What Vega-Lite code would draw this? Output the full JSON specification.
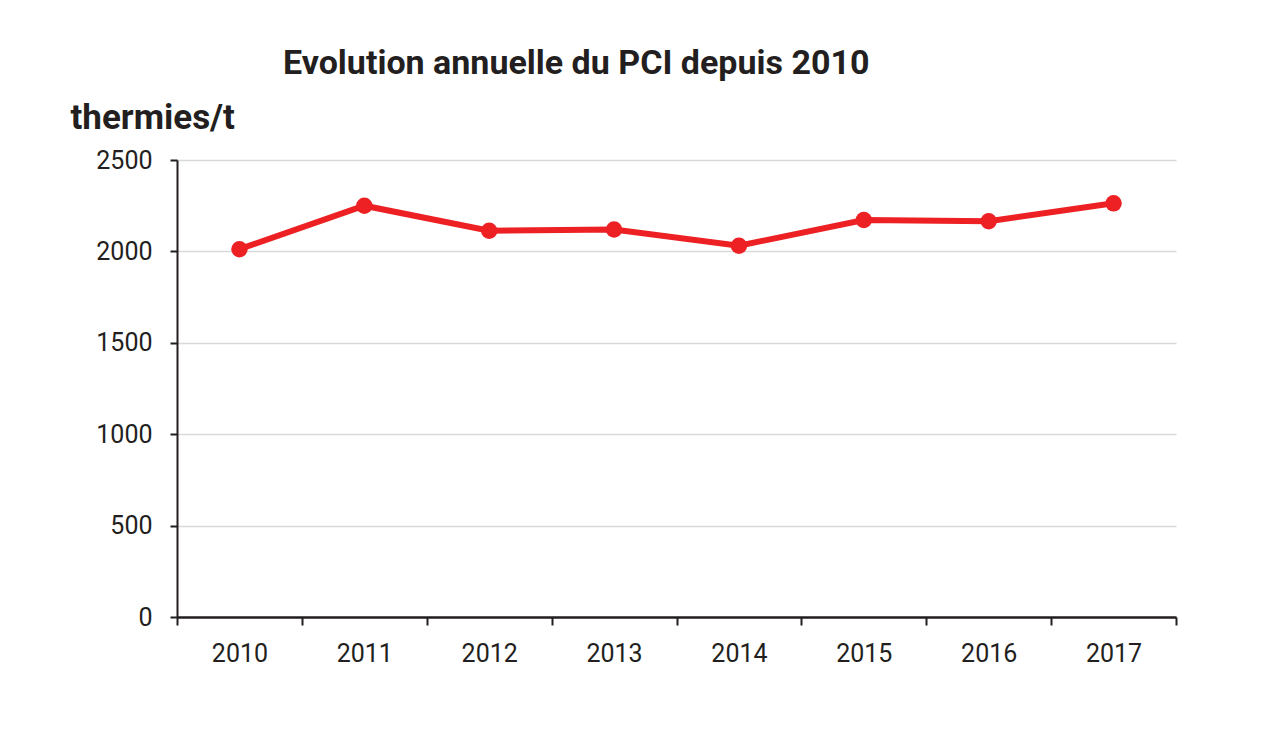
{
  "$schema": "https://vega.github.io/schema/vega-lite/v6.json",
  "autosize": {"type": "none"},
  "width": 999,
  "height": 457,
  "padding": {"left": 177, "top": 160, "right": 89, "bottom": 112},
  "background": "white",
  "title": {
    "text": "Evolution annuelle du PCI depuis 2010",
    "anchor": "start",
    "frame": "group",
    "dx": 106,
    "offset": 19,
    "font": "Roboto",
    "fontSize": 34,
    "fontWeight": "bold",
    "color": "#231f20"
  },
  "config": {
    "view": {"stroke": null},
    "font": "Roboto"
  },
  "data": {
    "values": [
      {"year": "2010", "pci": 2012},
      {"year": "2011", "pci": 2250},
      {"year": "2012", "pci": 2113},
      {"year": "2013", "pci": 2120},
      {"year": "2014", "pci": 2031},
      {"year": "2015", "pci": 2172},
      {"year": "2016", "pci": 2165},
      {"year": "2017", "pci": 2263}
    ]
  },
  "encoding": {
    "x": {
      "field": "year",
      "type": "ordinal",
      "scale": {"type": "band", "paddingInner": 0, "paddingOuter": 0},
      "axis": {
        "title": null,
        "labelAngle": 0,
        "labelFont": "Roboto",
        "labelFontSize": 25,
        "labelColor": "#231f20",
        "labelPadding": 16,
        "tickBand": "extent",
        "tickSize": 8,
        "tickWidth": 2,
        "tickColor": "#231f20",
        "domainColor": "#231f20",
        "domainWidth": 2.5,
        "grid": false
      }
    },
    "y": {
      "field": "pci",
      "type": "quantitative",
      "scale": {"domain": [0, 2500], "nice": false},
      "axis": {
        "values": [0, 500, 1000, 1500, 2000, 2500],
        "format": "d",
        "title": "thermies/t",
        "titleFont": "Roboto",
        "titleAngle": 0,
        "titleAlign": "left",
        "titleBaseline": "alphabetic",
        "titleX": -107,
        "titleY": -32,
        "titleFontSize": 35,
        "titleFontWeight": "bold",
        "titleColor": "#231f20",
        "labelFont": "Roboto",
        "labelFontSize": 25,
        "labelColor": "#231f20",
        "labelPadding": 18,
        "tickSize": 7,
        "tickWidth": 2,
        "tickColor": "#231f20",
        "domainColor": "#231f20",
        "domainWidth": 2,
        "grid": true,
        "gridColor": "#d9d9d9",
        "gridWidth": 1.5
      }
    }
  },
  "layer": [
    {"mark": {"type": "line", "color": "#ed2024", "strokeWidth": 6}},
    {"mark": {"type": "point", "filled": true, "color": "#ed2024", "opacity": 1, "size": 270}}
  ]
}
